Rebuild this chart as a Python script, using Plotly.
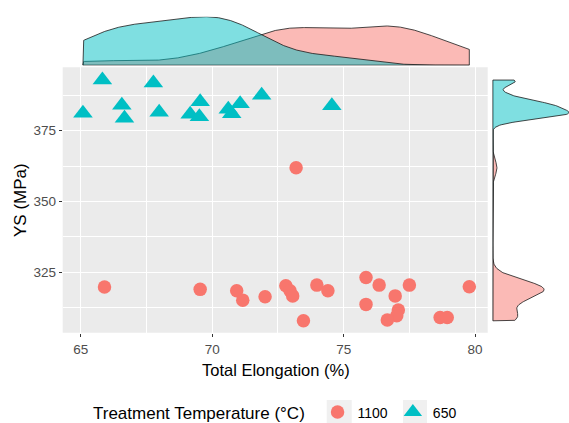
import numpy as np
import plotly.graph_objects as go

# ---------------- data ----------------
groups = ["1100", "650"]
el_1100 = [65.90, 69.54, 70.93, 71.16, 72.01, 72.80, 72.96, 73.06, 73.47, 73.98, 74.40,
           75.85, 76.35, 77.50, 76.96, 75.85, 77.08, 77.02, 76.66, 78.67, 78.94, 79.78, 73.19]
ys_1100 = [319.8, 319.0, 318.5, 315.2, 316.4, 320.3, 318.5, 316.7, 307.9, 320.5, 318.5,
           323.2, 320.5, 320.5, 316.7, 313.7, 311.7, 309.7, 308.2, 309.1, 309.1, 319.9, 361.9]
el_650 = [65.08, 65.82, 66.56, 66.66, 67.76, 67.98, 69.16, 69.54, 69.51, 70.61, 70.74,
          71.06, 71.88, 74.55]
ys_650 = [381.2, 392.9, 384.0, 379.4, 391.9, 381.5, 380.8, 385.2, 379.9, 382.6, 381.0,
          384.5, 387.5, 383.8]
x_ticks = [65, 70, 75, 80]
y_ticks = [325, 350, 375]

pink = "#F8766D"
cyan = "#00BFC4"
pink_a = "rgba(248,118,109,0.5)"
cyan_a = "rgba(0,191,196,0.5)"
FONT = "Liberation Sans, Arial, sans-serif"

W, H = 569, 423
def fx(px):
    return px / W
def fy(py):
    return 1 - py / H

# ---------------- density (gaussian KDE, bw.nrd0) ----------------
def bw_nrd0(v):
    v = np.asarray(v, float)
    sd = v.std(ddof=1)
    q75, q25 = np.percentile(v, [75, 25])
    lo = min(sd, (q75 - q25) / 1.34)
    return 0.9 * lo * len(v) ** -0.2

def kde(v, grid):
    v = np.asarray(v, float)
    h = bw_nrd0(v)
    z = (grid[:, None] - v[None, :]) / h
    return np.exp(-0.5 * z ** 2).sum(1) / (len(v) * h * np.sqrt(2 * np.pi))

all_x = np.array(el_1100 + el_650)
all_y = np.array(ys_1100 + ys_650)
gx = np.linspace(all_x.min(), all_x.max(), 512)
gy = np.linspace(all_y.min(), all_y.max(), 512)
dx = {"1100": kde(el_1100, gx), "650": kde(el_650, gx)}
dy = {"1100": kde(ys_1100, gy), "650": kde(ys_650, gy)}
max_dx = max(d.max() for d in dx.values())
max_dy = max(d.max() for d in dy.values())

fig = go.Figure()

# top marginal densities
for g, col in [("1100", pink_a), ("650", cyan_a)]:
    xs = np.concatenate([[gx[0]], gx, [gx[-1], gx[0]]])
    ys = np.concatenate([[0], dx[g], [0, 0]])
    fig.add_trace(go.Scatter(x=xs, y=ys, xaxis="x2", yaxis="y2", mode="lines",
                             fill="toself", fillcolor=col,
                             line=dict(color="#1a1a1a", width=0.8),
                             showlegend=False, hoverinfo="skip"))
# right marginal densities
for g, col in [("1100", pink_a), ("650", cyan_a)]:
    ys = np.concatenate([[gy[0]], gy, [gy[-1], gy[0]]])
    xs = np.concatenate([[0], dy[g], [0, 0]])
    fig.add_trace(go.Scatter(x=xs, y=ys, xaxis="x3", yaxis="y3", mode="lines",
                             fill="toself", fillcolor=col,
                             line=dict(color="#1a1a1a", width=0.8),
                             showlegend=False, hoverinfo="skip"))

# main scatter
fig.add_trace(go.Scatter(x=el_1100, y=ys_1100, mode="markers", name=groups[0],
                         marker=dict(symbol="circle", size=13.5, color=pink,
                                     line=dict(width=0))))
fig.add_trace(go.Scatter(x=el_650, y=ys_650, mode="markers", name=groups[1],
                         marker=dict(symbol="triangle-up", size=17, color=cyan,
                                     line=dict(width=0))))

tickfont = dict(family=FONT, size=13.5, color="#4D4D4D")
xr = [64.31, 80.48]
yr = [303.7, 397.4]

fig.update_layout(
    width=W, height=H,
    margin=dict(l=0, r=0, t=0, b=0, autoexpand=False),
    paper_bgcolor="white", plot_bgcolor="rgba(0,0,0,0)",
    font=dict(family=FONT),
    xaxis=dict(domain=[fx(62.7), fx(487.7)], range=xr, tickvals=x_ticks,
               ticks="outside", ticklen=3, tickcolor="#333333", tickwidth=1,
               tickfont=tickfont, ticklabelstandoff=1,
               showgrid=True, gridcolor="white", gridwidth=1.1,
               minor=dict(tickvals=[62.5, 67.5, 72.5, 77.5], showgrid=True,
                          gridcolor="white", gridwidth=0.5, ticks=""),
               zeroline=False, showline=False, automargin=False, anchor="y"),
    yaxis=dict(domain=[fy(332.7), fy(67.3)], range=yr, tickvals=y_ticks,
               ticks="outside", ticklen=3, tickcolor="#333333", tickwidth=1,
               tickfont=tickfont, showgrid=True, gridcolor="white", gridwidth=1.1,
               minor=dict(tickvals=[312.5, 337.5, 362.5, 387.5], showgrid=True,
                          gridcolor="white", gridwidth=0.5, ticks=""),
               zeroline=False, showline=False, automargin=False, anchor="x"),
    xaxis2=dict(domain=[fx(62.7), fx(487.7)], range=xr, visible=False,
                showgrid=False, zeroline=False, anchor="y2"),
    yaxis2=dict(domain=[fy(65.3), fy(16.7)], range=[0, max_dx], visible=False,
                showgrid=False, zeroline=False, anchor="x2"),
    xaxis3=dict(domain=[fx(492.7), 1.0], range=[0, max_dy], visible=False,
                showgrid=False, zeroline=False, anchor="y3"),
    yaxis3=dict(domain=[fy(332.7), fy(67.3)], range=yr, visible=False,
                showgrid=False, zeroline=False, anchor="x3"),
    legend=dict(orientation="h", xref="container", yref="container",
                x=fx(91), xanchor="left", y=fy(413), yanchor="middle",
                title=dict(text="Treatment Temperature (°C)&nbsp;", side="left",
                           font=dict(family=FONT, size=17, color="black")),
                font=dict(family=FONT, size=14, color="black"),
                bgcolor="rgba(0,0,0,0)", itemwidth=30, tracegroupgap=0),
    shapes=[
        dict(type="rect", xref="x domain", yref="y domain", x0=0, x1=1, y0=0, y1=1,
             fillcolor="#EBEBEB", line=dict(width=0), layer="below"),
        dict(type="rect", xref="paper", yref="paper", x0=fx(326.7), x1=fx(351.7),
             y0=fy(425), y1=fy(400), fillcolor="#F0F0F0", line=dict(width=0), layer="below"),
        dict(type="rect", xref="paper", yref="paper", x0=fx(403), x1=fx(427),
             y0=fy(425), y1=fy(400), fillcolor="#F0F0F0", line=dict(width=0), layer="below"),
    ],
    annotations=[
        dict(text="Total Elongation (%)", xref="paper", yref="paper", x=fx(275.5), y=fy(370),
             xanchor="center", yanchor="middle", showarrow=False,
             font=dict(family=FONT, size=16.5, color="black")),
        dict(text="YS (MPa)", xref="paper", yref="paper", x=fx(20), y=fy(200),
             xanchor="center", yanchor="middle", showarrow=False, textangle=-90,
             font=dict(family=FONT, size=17, color="black")),
    ],
)

fig.write_html("out.html")
